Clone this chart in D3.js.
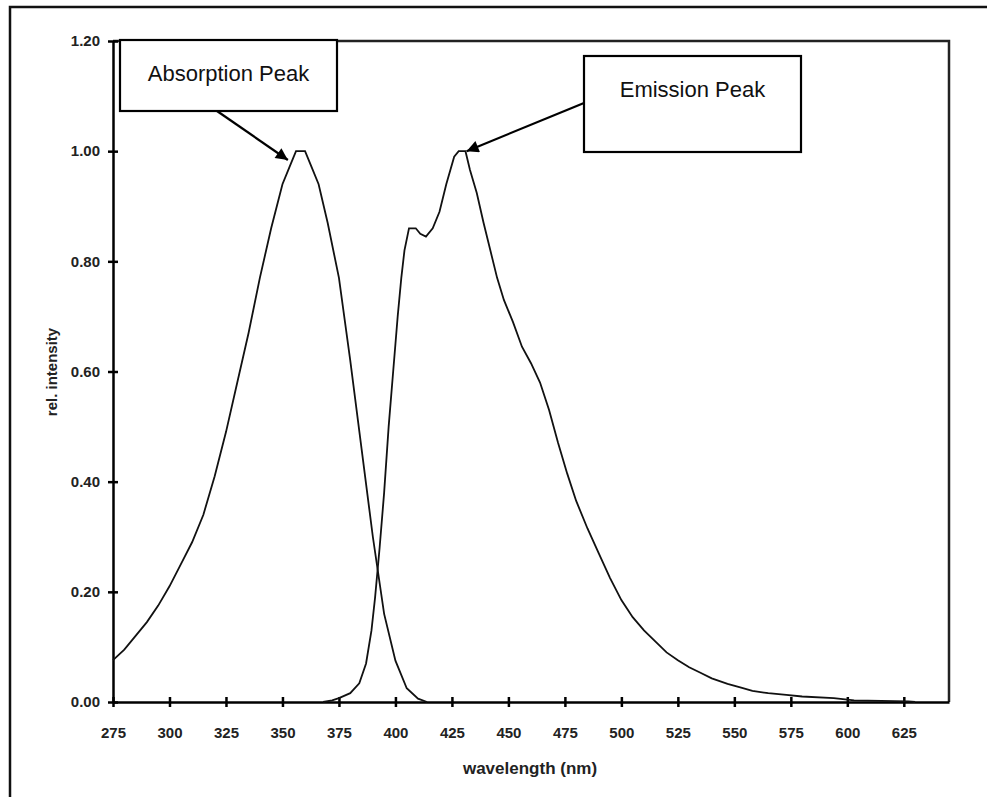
<!DOCTYPE html>
<html>
<head>
<meta charset="utf-8">
<script src="https://cdn.jsdelivr.net/npm/d3@7"></script>
<style>
  body { margin: 0; background: #fff; }
  svg text { font-family: "Liberation Sans", Arial, sans-serif; }
</style>
</head>
<body>
<svg id="canvas"></svg>
<script>
// absorption spectrum (nm, rel. intensity)
let absWl  = [275, 280, 285, 290, 295, 300, 305, 310, 315, 320, 325, 330, 335, 340, 345, 350, 353, 356, 360, 363, 366, 370, 375, 380, 385, 390, 395, 400, 405, 410, 414]
let absVal = [0.076, 0.095, 0.12, 0.145, 0.175, 0.21, 0.25, 0.29, 0.34, 0.41, 0.49, 0.58, 0.67, 0.77, 0.86, 0.94, 0.97, 1.0, 1.0, 0.97, 0.94, 0.87, 0.77, 0.62, 0.46, 0.30, 0.16, 0.075, 0.025, 0.006, 0.0]

// emission spectrum
let emWl  = [368, 372, 375, 380, 384, 387, 389.4, 391, 393, 395, 397, 399, 400, 401, 402.6, 404, 406, 409, 411, 413.5, 416.5, 419.5, 422.5, 426, 428, 431, 433, 436, 439, 442, 445, 448, 452, 456, 460, 464, 468, 472, 476, 480, 485, 490, 495, 500, 505, 510, 515, 520, 525, 530, 535, 540, 547, 553, 558, 565, 573, 580, 594, 603, 615, 627, 630]
let emVal = [0, 0.003, 0.007, 0.016, 0.034, 0.07, 0.13, 0.19, 0.28, 0.38, 0.5, 0.6, 0.65, 0.70, 0.77, 0.82, 0.86, 0.86, 0.85, 0.845, 0.86, 0.89, 0.94, 0.99, 1.0, 1.0, 0.966, 0.924, 0.87, 0.82, 0.77, 0.73, 0.69, 0.645, 0.615, 0.58, 0.53, 0.47, 0.415, 0.365, 0.315, 0.27, 0.225, 0.185, 0.154, 0.13, 0.11, 0.09, 0.076, 0.063, 0.053, 0.043, 0.033, 0.026, 0.02, 0.016, 0.013, 0.01, 0.007, 0.003, 0.002, 0.001, 0]

let xTicks = [275, 300, 325, 350, 375, 400, 425, 450, 475, 500, 525, 550, 575, 600, 625]
let yTicks = [0, 0.2, 0.4, 0.6, 0.8, 1.0, 1.2]

// callouts: label, box (px), arrow target (data units)
let notes = [
    {text: 'Absorption Peak', box: [120, 40, 217, 71], from: [217, 111], at: [352.4, 0.984]},
    {text: 'Emission Peak', box: [584, 56, 217, 96], from: [584, 103], at: [431.5, 1.0]}
]

let width = 987
let height = 797
let plotL = 113, plotR = 949, plotT = 41, plotB = 702

let svg = d3.select('#canvas').attr('width', width).attr('height', height)

// outer frame (runs off the page on the right and bottom)
svg.append('rect')
    .attr('x', 10).attr('y', 7).attr('width', 1000).attr('height', 820)
    .attr('fill', 'none').attr('stroke', '#111').attr('stroke-width', 2.5)

let xScale = d3.scaleLinear().domain([275, 645]).range([plotL, plotR])
let yScale = d3.scaleLinear().domain([0, 1.2]).range([plotB, plotT])

// top + right border of plot area
svg.append('path')
    .attr('d', `M${plotL},${plotT}H${plotR}V${plotB}`)
    .attr('fill', 'none').attr('stroke', '#222').attr('stroke-width', 2.5)

let xAxis = d3.axisBottom(xScale).tickValues(xTicks).tickSizeOuter(0).tickSizeInner(5).tickPadding(20)
let yAxis = d3.axisLeft(yScale).tickValues(yTicks).tickSizeOuter(0).tickSizeInner(5).tickPadding(8)
    .tickFormat(d3.format('.2f'))

let gx = svg.append('g').attr('transform', `translate(0,${plotB})`).call(xAxis)
let gy = svg.append('g').attr('transform', `translate(${plotL},0)`).call(yAxis)

// ticks cross the axis line
gx.selectAll('.tick line').attr('y1', -5).attr('y2', 5)
gy.selectAll('.tick line').attr('x1', -5).attr('x2', 5)

for (let g of [gx, gy]) {
    g.select('.domain').attr('stroke', '#000').attr('stroke-width', 2.5)
    g.selectAll('.tick line').attr('stroke', '#000').attr('stroke-width', 2.5)
    g.selectAll('.tick text')
        .attr('font-family', '"Liberation Sans", Arial, sans-serif')
        .attr('font-size', 15).attr('font-weight', 'bold').attr('fill', '#222')
}

let line = d3.line().x(d => xScale(d[0])).y(d => yScale(d[1]))

svg.append('path')
    .datum(absWl.map((w, i) => [w, absVal[i]]))
    .attr('d', line).attr('fill', 'none').attr('stroke', '#111').attr('stroke-width', 1.8)

svg.append('path')
    .datum(emWl.map((w, i) => [w, emVal[i]]))
    .attr('d', line).attr('fill', 'none').attr('stroke', '#111').attr('stroke-width', 1.8)

// axis titles
svg.append('text')
    .attr('x', 530).attr('y', 774).attr('text-anchor', 'middle')
    .attr('font-size', 17).attr('font-weight', 'bold').attr('fill', '#222')
    .text('wavelength (nm)')

svg.append('text')
    .attr('transform', 'translate(57,372) rotate(-90)').attr('text-anchor', 'middle')
    .attr('font-size', 15).attr('font-weight', 'bold').attr('fill', '#222')
    .text('rel. intensity')

// arrowhead
svg.append('defs').append('marker')
    .attr('id', 'head').attr('viewBox', '0 0 10 10').attr('refX', 10).attr('refY', 5)
    .attr('markerWidth', 17).attr('markerHeight', 12).attr('markerUnits', 'userSpaceOnUse')
    .attr('orient', 'auto')
    .append('path').attr('d', 'M0,0L10,5L0,10Z').attr('fill', '#000')

notes.forEach(n => {
    svg.append('line')
        .attr('x1', n.from[0]).attr('y1', n.from[1])
        .attr('x2', xScale(n.at[0])).attr('y2', yScale(n.at[1]))
        .attr('stroke', '#000').attr('stroke-width', 2.2)
        .attr('marker-end', 'url(#head)')
    svg.append('rect')
        .attr('x', n.box[0]).attr('y', n.box[1]).attr('width', n.box[2]).attr('height', n.box[3])
        .attr('fill', '#fff').attr('stroke', '#000').attr('stroke-width', 2.2)
    svg.append('text')
        .attr('x', n.box[0] + n.box[2] / 2).attr('y', n.box[1] + 41)
        .attr('text-anchor', 'middle').attr('font-size', 22).attr('fill', '#111')
        .text(n.text)
})
</script>
</body>
</html>
